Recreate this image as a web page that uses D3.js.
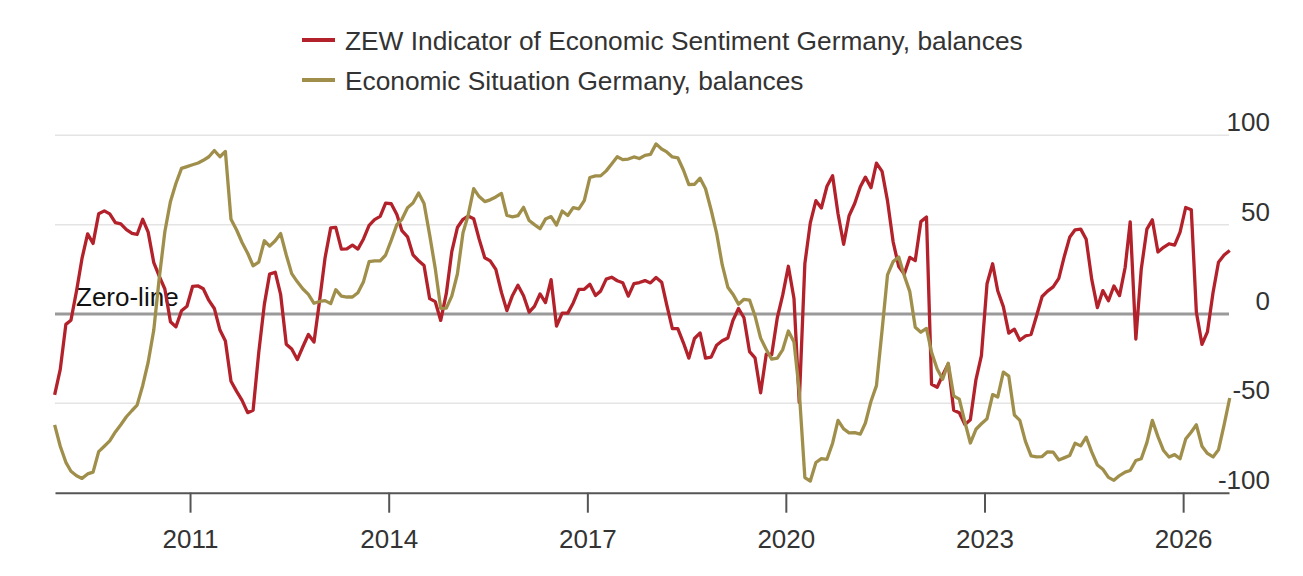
<!DOCTYPE html>
<html>
<head>
<meta charset="utf-8">
<script src="https://cdn.jsdelivr.net/npm/d3@7"></script>
<style>
  html, body { margin: 0; padding: 0; background: #fff; }
  svg { display: block; font-family: "Liberation Sans", Arial, sans-serif; }
</style>
</head>
<body>
<div id="chart"></div>
<script>
// monthly balances, first value = Dec 2008, last value = Sep 2026
const firstMonth = new Date(2008, 11, 15);

const sentiment = [
  -45.2,
  -31.0, -5.8, -3.5, 13.0, 31.1, 44.8, 39.5, 56.1, 57.7, 56.0, 51.1, 50.4,
  47.2, 45.1, 44.5, 53.0, 45.8, 28.7, 21.2, 14.0, -4.3, -7.2, 1.8, 4.3,
  15.4, 15.7, 14.1, 7.6, 3.1, -9.0, -15.1, -37.6, -43.3, -48.3, -55.2, -53.8,
  -21.6, 5.4, 22.3, 23.4, 10.8, -16.9, -19.6, -25.5, -18.2, -11.5, -15.7, 6.9,
  31.5, 48.2, 48.5, 36.3, 36.4, 38.5, 36.3, 42.0, 49.6, 52.8, 54.6, 62.0,
  61.7, 55.7, 46.6, 43.2, 33.1, 29.8, 27.1, 8.6, 6.9, -3.6, 11.5, 34.9,
  48.4, 53.0, 54.8, 53.3, 41.9, 31.5, 29.7, 25.0, 12.1, 1.9, 10.4, 16.1,
  10.2, 1.0, 4.3, 11.2, 6.4, 19.2, -6.8, 0.5, 0.5, 6.2, 13.8, 13.8,
  16.6, 10.4, 12.8, 19.5, 20.6, 18.6, 17.5, 10.0, 17.0, 17.6, 18.7, 17.4,
  20.4, 17.8, 5.1, -8.2, -8.2, -16.1, -24.7, -13.7, -10.6, -24.7, -24.1, -17.5,
  -15.0, -13.4, -3.6, 3.1, -2.1, -21.1, -24.5, -44.1, -22.5, -22.8, -2.1, 10.7,
  26.7, 8.7, -49.5, 28.2, 51.0, 63.4, 59.3, 71.5, 77.4, 56.1, 39.0, 55.0,
  61.8, 71.2, 76.6, 70.7, 84.4, 79.8, 63.3, 40.4, 26.5, 22.3, 31.7, 29.9,
  51.7, 54.3, -39.3, -41.0, -34.3, -28.0, -53.8, -55.3, -61.9, -59.2, -36.7, -23.3,
  16.9, 28.1, 13.0, 4.1, -10.7, -8.5, -14.7, -12.3, -11.4, -1.1, 9.8, 12.8,
  15.2, 19.9, 31.7, 42.9, 47.1, 47.5, 41.8, 19.2, 3.6, 13.1, 7.4, 15.7,
  10.3, 26.0, 51.6, -14.0, 25.2, 47.5, 52.7, 34.7, 37.3, 39.3, 38.5, 45.8,
  59.6, 58.3, 1.0, -17.0, -10.0, 12.0, 29.0, 33.0, 35.5
];

const situation = [
  -62,
  -74, -83, -88, -90.5, -92, -89.5, -88.5, -77, -74, -71, -66, -62,
  -57.5, -54, -51, -40, -27, -9, 20, 46, 63, 73, 81.5, 82.5,
  83.5, 84.5, 86, 88, 91.5, 88, 91, 53, 47, 40, 34, 27,
  29, 41, 38, 41, 45, 33, 22.6, 18, 14, 11, 6, 7,
  7.5, 5.8, 13.6, 10, 9.5, 9.5, 11.9, 18.1, 29.3, 29.7, 29.7, 33,
  41.2, 50.0, 53, 59.5, 62.1, 67.7, 61.8, 44.3, 25.4, 3.2, 3.3, 10.0,
  22.4, 45.5, 55.1, 70.2, 65.7, 62.9, 63.9, 65.5, 67.5, 55.2, 54.4, 55.0,
  59.7, 52.3, 50.0, 47.7, 53.1, 54.5, 49.8, 57.6, 55.1, 59.5, 58.8, 63.5,
  76.4, 77.3, 77.3, 80.1, 83.9, 88.0, 86.4, 86.7, 87.9, 87.0, 88.8, 89.3,
  95.2, 92.3, 90.7, 87.9, 87.4, 80.6, 72.4, 72.6, 76.0, 70.1, 58.2, 45.3,
  27.6, 15.0, 11.1, 5.5, 8.2, 7.8, -1.1, -13.5, -19.9, -25.3, -24.7, -19.9,
  -9.5, -15.7, -43.1, -91.5, -93.5, -83.1, -80.9, -81.3, -72.3, -59.5, -64.3, -66.5,
  -66.4, -67.2, -61.0, -48.8, -40.1, -9.1, 21.9, 29.3, 31.9, 21.6, 12.5, -7.4,
  -10.2, -8.1, -21.4, -30.8, -36.5, -27.6, -45.8, -47.6, -60.5, -72.2, -64.5, -61.4,
  -58.6, -45.1, -46.5, -32.5, -34.8, -56.5, -59.5, -71.3, -79.4, -79.9, -79.8, -77.1,
  -77.3, -81.7, -80.5, -79.2, -72.3, -73.8, -68.9, -77.3, -84.5, -86.9, -91.4, -93.1,
  -90.4, -88.5, -87.6, -82.0, -81.0, -72.0, -59.5, -68.6, -76.4, -80.0, -78.7, -81.0,
  -70, -66, -62, -74, -78, -80, -76, -62, -47
];

const yearTicks = [2011, 2014, 2017, 2020, 2023, 2026];
const valueTicks = [100, 50, 0, -50, -100];

const seriesNames = [
  "ZEW Indicator of Economic Sentiment Germany, balances",
  "Economic Situation Germany, balances"
];
const seriesColors = ["#b3212b", "#a08f4b"];

const width = 1303, height = 576;
const plot = {left: 55, right: 1229, top: 135.3, bottom: 492.7};

const svg = d3.select("#chart").append("svg")
  .attr("width", width)
  .attr("height", height);

const x = d3.scaleTime()
  .domain([new Date(2008, 11, 17), new Date(2026, 8, 11)])
  .range([plot.left, plot.right]);

const y = d3.scaleLinear()
  .domain([-100, 100])
  .range([plot.bottom, plot.top]);

const monthDate = i => d3.timeMonth.offset(firstMonth, i);

// grid
svg.append("g")
  .selectAll("line")
  .data(valueTicks.filter(v => v !== -100))
  .enter().append("line")
  .attr("x1", plot.left).attr("x2", plot.right)
  .attr("y1", d => y(d)).attr("y2", d => y(d))
  .attr("stroke", d => d === 0 ? "#9a9a9a" : "#e4e4e4")
  .attr("stroke-width", d => d === 0 ? 3 : 1.5);

// y labels on the right
svg.append("g")
  .selectAll("text")
  .data(valueTicks)
  .enter().append("text")
  .attr("x", 1270)
  .attr("y", d => y(d) - 4)
  .attr("text-anchor", "end")
  .attr("font-size", 26)
  .attr("fill", "#333")
  .text(d => d);

svg.append("text")
  .attr("x", 76)
  .attr("y", y(0) - 8)
  .attr("font-size", 26)
  .attr("fill", "#111")
  .text("Zero-line");

// x axis
const xAxis = d3.axisBottom(x)
  .tickValues(yearTicks.map(yr => new Date(yr, 0, 1)))
  .tickFormat(d3.timeFormat("%Y"))
  .tickSize(20)
  .tickSizeOuter(0)
  .tickPadding(17);

const gx = svg.append("g")
  .attr("transform", "translate(0," + plot.bottom + ")")
  .call(xAxis);
gx.select(".domain").attr("stroke", "#555").attr("stroke-width", 2);
gx.selectAll(".tick line").attr("stroke", "#555").attr("stroke-width", 2);
gx.selectAll(".tick text")
  .attr("font-size", 26)
  .attr("font-family", "'Liberation Sans', Arial, sans-serif")
  .attr("fill", "#333");

// lines
const line = d3.line()
  .x((d, i) => x(monthDate(i)))
  .y(d => y(d));

[sentiment, situation].forEach((values, k) => {
  svg.append("path")
    .datum(values)
    .attr("fill", "none")
    .attr("stroke", seriesColors[k])
    .attr("stroke-width", 3.3)
    .attr("stroke-linejoin", "round")
    .attr("d", line);
});

// legend
const legend = svg.append("g")
  .selectAll("g")
  .data(seriesNames)
  .enter().append("g")
  .attr("transform", (d, i) => "translate(0," + (40 + i * 40) + ")");

legend.append("line")
  .attr("x1", 302).attr("x2", 335)
  .attr("stroke", (d, i) => seriesColors[i])
  .attr("stroke-width", 4);

legend.append("text")
  .attr("x", 345)
  .attr("y", 10)
  .attr("font-size", 26.3)
  .attr("fill", "#333")
  .text(d => d);
</script>
</body>
</html>
